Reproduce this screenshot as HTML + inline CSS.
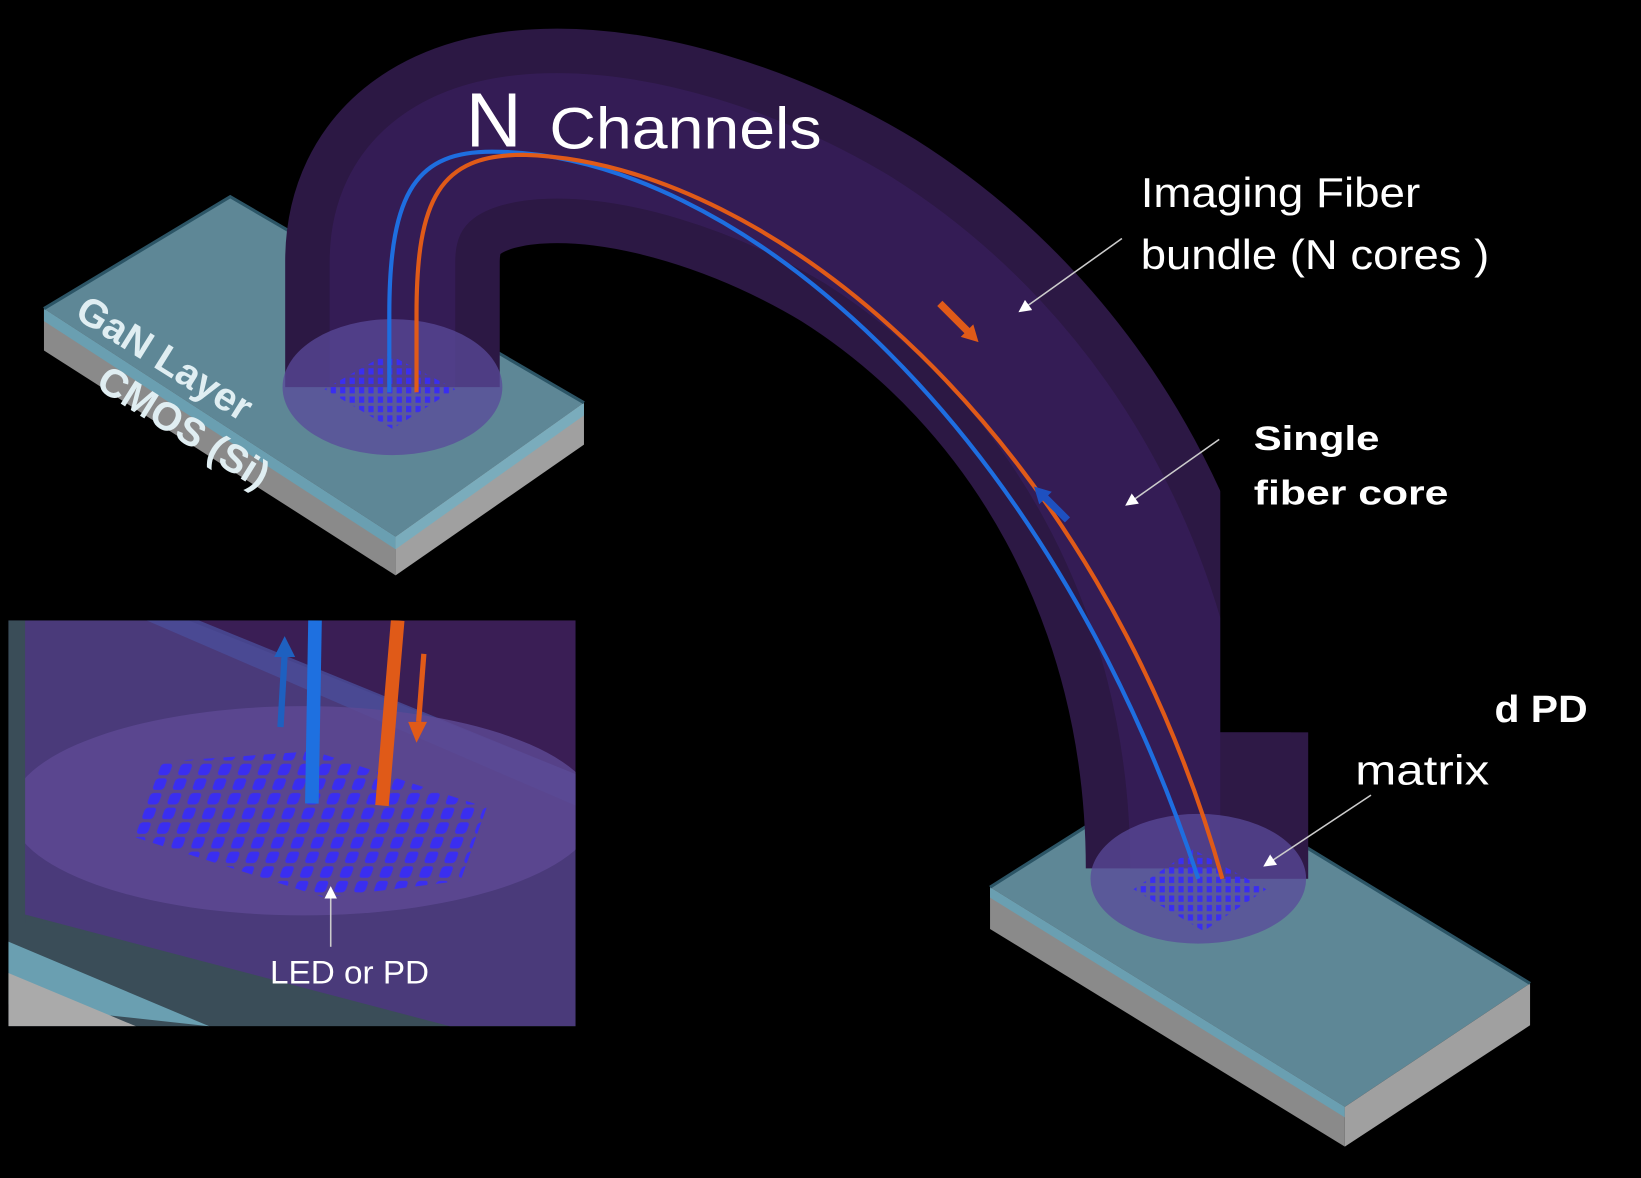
<!DOCTYPE html>
<html><head><meta charset="utf-8"><style>
html,body{margin:0;padding:0;background:#000;width:1641px;height:1178px;overflow:hidden}
svg{display:block}
text{font-family:"Liberation Sans",sans-serif;fill:#fff}
</style></head><body>
<svg width="1641" height="1178" viewBox="0 0 1568 1126" preserveAspectRatio="none" xmlns="http://www.w3.org/2000/svg">
<defs>
<marker id="ah" markerWidth="8" markerHeight="8" refX="4" refY="4" orient="auto"><path d="M0,0 L8,4 L0,8z" fill="#fff"/></marker>
<pattern id="dots" width="9" height="9" patternUnits="userSpaceOnUse"><rect x="1" y="1" width="5" height="6" fill="#3a2ef0"/></pattern>
<pattern id="dots2" width="19" height="14" patternUnits="userSpaceOnUse" patternTransform="skewX(-20)"><rect x="2" y="2" width="11" height="11" rx="3" fill="#3a2ef0"/></pattern>
</defs>
<rect width="1568" height="1126" fill="#000"/>
<!-- left chip -->
<polygon points="42,295 220,188 558,385 378,513" fill="#5e8796"/>
<polygon points="42,295 378,513 378,550 42,335" fill="#8a8a8a"/>
<polygon points="42,295 378,513 378,525 42,307" fill="#6a9fb1"/>
<polygon points="378,513 558,385 558,425 378,550" fill="#a0a0a0"/>
<polygon points="378,513 558,385 558,397 378,525" fill="#7aacbc"/>
<polyline points="42,295 220,188 558,385" fill="none" stroke="#2c5566" stroke-width="3"/>
<!-- right chip -->
<polygon points="946,848 1125,735 1462,940 1285,1058" fill="#5e8796"/>
<polygon points="946,848 1285,1058 1285,1096 946,888" fill="#8a8a8a"/>
<polygon points="946,848 1285,1058 1285,1068 946,858" fill="#6a9fb1"/>
<polygon points="1285,1058 1462,940 1462,980 1285,1096" fill="#a0a0a0"/>
<polyline points="946,848 1125,735 1462,940" fill="none" stroke="#2c5566" stroke-width="3"/>
<!-- tube -->
<path d="M375 370 L375 250 C375 90 620 100 820 220 C1010 340 1140 560 1140 830" fill="none" stroke="#2c1844" stroke-width="205"/>
<path d="M375 370 L375 250 C375 90 620 100 820 220 C1010 340 1140 560 1140 830" fill="none" stroke="#3a2060" stroke-width="120" opacity="0.6"/>
<rect x="1166" y="430" width="300" height="270" fill="#000"/>
<rect x="1166" y="700" width="84" height="140" fill="#2e1946"/>
<ellipse cx="375" cy="370" rx="105" ry="65" fill="#5a4a9a" opacity="0.75"/>
<ellipse cx="1145" cy="840" rx="103" ry="62" fill="#5a4a9a" opacity="0.75"/>
<!-- dot matrices -->
<polygon points="310,372 370,338 435,372 375,410" fill="url(#dots)"/>
<polygon points="1083,850 1140,812 1210,850 1150,890" fill="url(#dots)"/>
<!-- fibers -->
<path d="M372 375 L372 300 C372 180 400 145 470 145 C700 145 1000 400 1145 840" fill="none" stroke="#1e6ee0" stroke-width="4"/>
<path d="M398 375 L398 300 C398 190 420 148 500 148 C740 155 1050 420 1168 840" fill="none" stroke="#e05a18" stroke-width="4"/>
<path d="M898 290 L930 322" stroke="#e05a18" stroke-width="7"/><polygon points="935,327 918,322 930,310" fill="#e05a18"/>
<path d="M1020 497 L995 472" stroke="#1e50c0" stroke-width="7"/><polygon points="988,465 1005,470 993,482" fill="#1e50c0"/>
<!-- pointer lines -->
<line x1="1072" y1="228" x2="978" y2="295" stroke="#ccc" stroke-width="1.5" marker-end="url(#ah)"/>
<line x1="1165" y1="420" x2="1080" y2="480" stroke="#ccc" stroke-width="1.5" marker-end="url(#ah)"/>
<line x1="1310" y1="760" x2="1212" y2="825" stroke="#ccc" stroke-width="1.5" marker-end="url(#ah)"/>
<!-- inset -->
<g>
<clipPath id="ic"><rect x="8" y="593" width="542" height="388"/></clipPath>
<g clip-path="url(#ic)">
<rect x="8" y="593" width="542" height="388" fill="#3a4d58"/>
<polygon points="8,960 8,900 200,981" fill="#6a9fb1"/>
<polygon points="8,981 8,930 130,981" fill="#aaa"/>
<polygon points="220,593 550,740 550,981 430,981 8,870 8,593" fill="#4a3a7a"/>
<polygon points="180,593 550,593 550,740" fill="#3a1e55"/>
<polygon points="140,593 550,770 550,740 190,593" fill="#4a4e9a" opacity="0.8"/>
<ellipse cx="290" cy="775" rx="280" ry="100" fill="#5e4a95" opacity="0.8"/>
<rect x="8" y="593" width="16" height="290" fill="#3a4d58"/>
<polygon points="128,800 155,728 300,718 465,772 440,842 310,858" fill="url(#dots2)"/>
<line x1="301" y1="593" x2="298" y2="768" stroke="#1e70e0" stroke-width="13"/>
<line x1="380" y1="593" x2="365" y2="770" stroke="#e05a18" stroke-width="13"/>
<line x1="268" y1="695" x2="272" y2="625" stroke="#1e60c0" stroke-width="6"/><polygon points="262,628 282,628 272,608" fill="#1e60c0"/>
<line x1="405" y1="625" x2="400" y2="690" stroke="#e05a18" stroke-width="5"/><polygon points="390,690 408,690 398,710" fill="#e05a18"/>
<line x1="316" y1="905" x2="316" y2="853" stroke="#ccc" stroke-width="1.5" marker-end="url(#ah)"/>
<text x="258" y="940" font-size="31" textLength="152" lengthAdjust="spacingAndGlyphs">LED or PD</text>
</g>
</g>
<!-- labels -->
<text x="445" y="140" font-size="74">N</text>
<text x="525" y="142" font-size="56" textLength="260" lengthAdjust="spacingAndGlyphs">Channels</text>
<text x="1090" y="198" font-size="40" textLength="267" lengthAdjust="spacingAndGlyphs">Imaging Fiber</text>
<text x="1090" y="257" font-size="40" textLength="333" lengthAdjust="spacingAndGlyphs">bundle (N cores )</text>
<text x="1198" y="430" font-size="33" font-weight="bold" textLength="120" lengthAdjust="spacingAndGlyphs">Single</text>
<text x="1198" y="482" font-size="33" font-weight="bold" textLength="186" lengthAdjust="spacingAndGlyphs">fiber core</text>
<text x="1428" y="690" font-size="36" font-weight="bold" textLength="89" lengthAdjust="spacingAndGlyphs">d PD</text>
<text x="1295" y="750" font-size="40" textLength="128" lengthAdjust="spacingAndGlyphs">matrix</text>
<text transform="translate(70,303) rotate(32)" font-size="38" font-weight="bold" style="fill:#e0eef2">GaN Layer</text>
<text transform="translate(90,370) rotate(32)" font-size="38" font-weight="bold" style="fill:#e0eef2">CMOS (Si)</text>
</svg>
</body></html>
